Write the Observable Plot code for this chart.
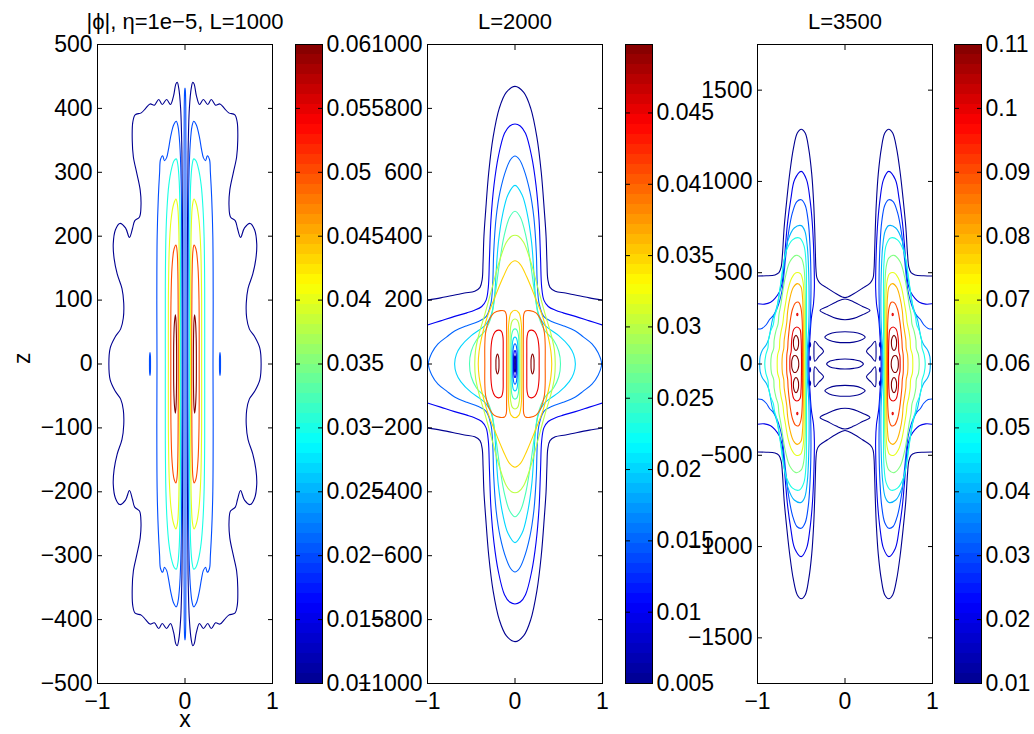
<!DOCTYPE html>
<html><head><meta charset="utf-8">
<script src="https://cdn.jsdelivr.net/npm/d3@7"></script>
<script src="https://cdn.jsdelivr.net/npm/@observablehq/plot@0.6"></script>
<style>
body{margin:0;background:#fff}
#fig{position:relative;width:1034px;height:734px;overflow:hidden;background:#fff}
#fig svg{position:absolute;overflow:visible}
</style>
</head><body><div id="fig"></div>
<script>
// ---------- titles, ticks, colour ranges ----------
const titles = ["|\u03d5|, \u03b7=1e\u22125, L=1000", "L=2000", "L=3500"];
const xTicks = [-1, 0, 1];
const p1YTicks = [-500,-400,-300,-200,-100,0,100,200,300,400,500];
const p2YTicks = [-1000,-800,-600,-400,-200,0,200,400,600,800,1000];
const p3YTicks = [-1500,-1000,-500,0,500,1000,1500];
const p1ZDomain = [-500, 500], p2ZDomain = [-1000, 1000], p3ZDomain = [-1750, 1750];
const cb1Domain = [0.01, 0.06], cb2Domain = [0.005, 0.0498], cb3Domain = [0.01, 0.11];
const cb1Ticks = [0.01,0.015,0.02,0.025,0.03,0.035,0.04,0.045,0.05,0.055,0.06];
const cb2Ticks = [0.005,0.01,0.015,0.02,0.025,0.03,0.035,0.04,0.045];
const cb3Ticks = [0.01,0.02,0.03,0.04,0.05,0.06,0.07,0.08,0.09,0.1,0.11];

// ---------- panel 1 contours (upper-left quarter, [x, z]) ----------
const p1_c010 = [[-0.870,0],[-0.855,25],[-0.80,42],[-0.735,55],[-0.705,72],[-0.70,95],[-0.72,118],[-0.775,141],[-0.81,165],[-0.82,188],[-0.795,210],[-0.745,220],[-0.68,213],[-0.635,198],[-0.60,212],[-0.575,224],[-0.52,230],[-0.503,248],[-0.512,272],[-0.55,298],[-0.59,324],[-0.603,350],[-0.597,378],[-0.57,390],[-0.50,393],[-0.45,400],[-0.40,407],[-0.35,405],[-0.30,414],[-0.26,406],[-0.21,414],[-0.166,406],[-0.13,420],[-0.105,438],[-0.089,441],[-0.072,432],[-0.05,400],[-0.035,330],[-0.028,200],[-0.026,0]];
const p1_c020 = [[-0.32,0],[-0.322,100],[-0.318,200],[-0.305,260],[-0.29,300],[-0.28,320],[-0.255,326],[-0.235,318],[-0.21,323],[-0.19,335],[-0.165,355],[-0.13,374],[-0.10,380],[-0.08,372],[-0.06,345],[-0.045,290],[-0.037,180],[-0.034,0]];
const p1_c030 = [[-0.225,0],[-0.225,120],[-0.218,200],[-0.205,245],[-0.185,280],[-0.155,305],[-0.125,318],[-0.10,321],[-0.082,312],[-0.066,285],[-0.056,230],[-0.051,140],[-0.05,0]];
const p1_c040 = [[-0.19,0],[-0.19,100],[-0.18,180],[-0.16,225],[-0.13,250],[-0.103,258],[-0.085,248],[-0.072,215],[-0.066,150],[-0.064,0]];
const p1_c050 = [[-0.162,0],[-0.16,100],[-0.148,152],[-0.125,180],[-0.103,186],[-0.09,176],[-0.082,145],[-0.078,80],[-0.077,0]];
const p1_c060 = [[-0.13,0],[-0.128,40],[-0.12,66],[-0.11,77],[-0.103,68],[-0.098,45],[-0.096,0]];
const p1_side020 = [[-0.406,0],[-0.405,12],[-0.40,18],[-0.395,12],[-0.394,0]];
const p1_mid020 = [[-0.011,0],[-0.011,300],[-0.009,400],[-0.004,428],[0,432]];

// ---------- panel 2 contours ----------
const p2_c005 = [[-1,200],[-0.85,207],[-0.7,215],[-0.577,222],[-0.46,228],[-0.40,240],[-0.375,265],[-0.365,320],[-0.355,400],[-0.335,480],[-0.30,600],[-0.25,710],[-0.18,800],[-0.10,850],[0,869]];
const p2_c010 = [[-1,122],[-0.85,135],[-0.69,149],[-0.55,160],[-0.463,168],[-0.38,180],[-0.33,200],[-0.305,240],[-0.292,330],[-0.275,450],[-0.24,560],[-0.19,650],[-0.12,722],[-0.06,745],[0,751]];
const p2_c015 = [[-0.99,0],[-0.95,35],[-0.88,63],[-0.78,85],[-0.69,103],[-0.55,120],[-0.425,132],[-0.33,148],[-0.275,190],[-0.255,250],[-0.243,353],[-0.215,460],[-0.17,540],[-0.10,610],[-0.05,640],[0,651]];
const p2_c020 = [[-0.69,0],[-0.67,30],[-0.62,55],[-0.50,89],[-0.40,108],[-0.33,125],[-0.27,155],[-0.235,210],[-0.215,290],[-0.19,380],[-0.14,470],[-0.08,530],[0,559]];
const p2_c025 = [[-0.52,0],[-0.50,40],[-0.44,75],[-0.34,105],[-0.27,150],[-0.225,221],[-0.18,310],[-0.125,400],[-0.06,460],[0,478]];
const p2_c030 = [[-0.46,0],[-0.45,45],[-0.41,95],[-0.34,160],[-0.26,240],[-0.18,320],[-0.10,380],[-0.04,400],[0,403]];
const p2_c035 = [[-0.42,0],[-0.41,40],[-0.38,85],[-0.32,145],[-0.23,209],[-0.135,272],[-0.06,312],[0,323]];
const p2_lobe040 = [[-0.345,0],[-0.345,60],[-0.335,100],[-0.30,135],[-0.24,160],[-0.17,167],[-0.12,166],[-0.10,155],[-0.096,120],[-0.095,0]];
const p2_lobe045 = [[-0.276,0],[-0.274,50],[-0.26,80],[-0.23,100],[-0.19,106],[-0.155,102],[-0.138,85],[-0.135,40],[-0.135,0]];
const p2_lobe049 = [[-0.218,0],[-0.215,20],[-0.20,31],[-0.186,20],[-0.183,0]];
const p2_mid035 = [[-0.078,0],[-0.077,80],[-0.07,130],[-0.045,160],[0,168]];
const p2_mid030 = [[-0.058,0],[-0.057,70],[-0.05,115],[-0.03,136],[0,141]];
const p2_mid025 = [[-0.046,0],[-0.045,60],[-0.038,92],[-0.02,107],[0,110]];
const p2_mid020 = [[-0.035,0],[-0.034,45],[-0.027,70],[-0.014,82],[0,84]];
const p2_mid015 = [[-0.025,0],[-0.024,35],[-0.018,52],[-0.009,61],[0,63]];
const p2_mid010 = [[-0.016,0],[-0.015,25],[-0.01,36],[-0.005,41],[0,42]];
const p2_mid005 = [[-0.007,0],[-0.007,15],[-0.004,24],[0,26]];

// ---------- panel 3 contours ----------
const p3_c01 = [[-1,482],[-0.9,483],[-0.8,488],[-0.755,500],[-0.73,530],[-0.715,600],[-0.695,750],[-0.665,900],[-0.63,1050],[-0.59,1180],[-0.545,1265],[-0.5,1286],[-0.455,1265],[-0.415,1180],[-0.38,1040],[-0.358,880],[-0.345,720],[-0.338,600],[-0.332,520],[-0.32,470],[-0.29,445],[-0.2,415],[-0.1,385],[0,364]];
const p3_c02 = [[-1,330],[-0.92,328],[-0.85,338],[-0.8,360],[-0.75,395],[-0.72,440],[-0.70,520],[-0.68,650],[-0.655,780],[-0.62,900],[-0.575,1010],[-0.5,1055],[-0.44,1010],[-0.40,900],[-0.375,780],[-0.36,650],[-0.352,520],[-0.35,420],[-0.36,330],[-0.385,250],[-0.40,150],[-0.41,60],[-0.413,0]];
const p3_c03 = [[-1,192],[-0.95,195],[-0.9,215],[-0.86,245],[-0.82,265],[-0.78,300],[-0.75,340],[-0.72,400],[-0.70,480],[-0.675,600],[-0.645,720],[-0.6,830],[-0.55,890],[-0.5,900],[-0.455,870],[-0.42,780],[-0.4,650],[-0.39,500],[-0.39,350],[-0.40,200],[-0.42,80],[-0.425,0]];
const p3_c04 = [[-0.975,0],[-0.97,40],[-0.945,75],[-0.9,105],[-0.87,140],[-0.85,190],[-0.83,240],[-0.80,280],[-0.77,330],[-0.745,400],[-0.72,480],[-0.69,580],[-0.65,680],[-0.58,745],[-0.5,758],[-0.46,730],[-0.43,640],[-0.415,500],[-0.41,350],[-0.415,200],[-0.43,80],[-0.435,0]];
const p3_c05 = [[-0.917,0],[-0.905,50],[-0.88,90],[-0.875,130],[-0.85,180],[-0.82,215],[-0.805,260],[-0.78,300],[-0.76,360],[-0.735,440],[-0.71,530],[-0.67,620],[-0.6,680],[-0.52,690],[-0.47,650],[-0.445,550],[-0.44,400],[-0.44,200],[-0.445,0]];
const p3_c06 = [[-0.848,0],[-0.84,50],[-0.815,85],[-0.81,130],[-0.79,180],[-0.765,220],[-0.755,270],[-0.735,320],[-0.71,400],[-0.68,480],[-0.63,560],[-0.56,595],[-0.5,580],[-0.47,530],[-0.455,400],[-0.452,200],[-0.455,0]];
const p3_c07 = [[-0.775,0],[-0.77,50],[-0.75,85],[-0.745,130],[-0.73,180],[-0.71,225],[-0.70,270],[-0.68,330],[-0.65,410],[-0.61,470],[-0.56,500],[-0.51,495],[-0.48,450],[-0.468,350],[-0.465,0]];
const p3_c08 = [[-0.72,0],[-0.715,50],[-0.70,85],[-0.695,130],[-0.68,180],[-0.665,230],[-0.655,290],[-0.63,360],[-0.59,420],[-0.545,440],[-0.505,425],[-0.485,360],[-0.478,250],[-0.475,0]];
const p3_c09 = [[-0.667,0],[-0.665,50],[-0.655,85],[-0.65,130],[-0.64,180],[-0.625,240],[-0.60,300],[-0.565,335],[-0.53,338],[-0.505,310],[-0.49,240],[-0.485,120],[-0.485,0]];
const p3_c10 = [[-0.63,0],[-0.628,40],[-0.615,70],[-0.612,110],[-0.605,150],[-0.585,190],[-0.55,203],[-0.515,190],[-0.502,140],[-0.498,60],[-0.497,0]];
const p3_c11_mid = [[-0.61,0],[-0.605,25],[-0.585,45],[-0.56,45],[-0.535,25],[-0.528,0]];
const p3_c11_off = [[-0.59,115],[-0.58,145],[-0.56,157],[-0.54,145],[-0.53,115],[-0.54,85],[-0.56,74],[-0.58,85]];
const p3_c10_dot = [[-0.552,271],[-0.545,278],[-0.538,271],[-0.545,264]];
const p3_ell0 = [[0,27],[-0.1,24],[-0.17,16],[-0.21,0],[-0.17,-16],[-0.1,-24],[0,-27]];
const p3_ell1 = [[0,177],[-0.1,174],[-0.18,164],[-0.23,147],[-0.18,130],[-0.1,120],[0,117]];
const p3_lens = [[0,356],[-0.1,340],[-0.2,315],[-0.285,293],[-0.2,270],[-0.1,250],[0,242]];
const p3_tri = [[-0.345,125],[-0.30,100],[-0.245,70],[-0.30,40],[-0.345,15],[-0.355,70]];
const p3_blobA = [[-0.405,32],[-0.40,44],[-0.393,32],[-0.40,20]];
const p3_blobB = [[-0.405,105],[-0.40,117],[-0.393,105],[-0.40,93]];

// ---------- contour lists: [kind, level, points, mirrorX, mirrorZ] ----------
const panel1Contours = [
  ["loopL",0.01,p1_c010],["loopL",0.02,p1_c020],["loopL",0.03,p1_c030],["loopL",0.04,p1_c040],
  ["loopL",0.05,p1_c050],["loopL",0.06,p1_c060],["loopL",0.02,p1_side020],["loopC",0.02,p1_mid020]
];
const panel2Contours = [
  ["openC",0.005,p2_c005],["openC",0.01,p2_c010],["loopC",0.015,p2_c015],["loopC",0.02,p2_c020],
  ["loopC",0.025,p2_c025],["loopC",0.03,p2_c030],["loopC",0.035,p2_c035],
  ["loopL",0.04,p2_lobe040],["loopL",0.045,p2_lobe045],["loopL",0.0495,p2_lobe049],
  ["loopC",0.035,p2_mid035],["loopC",0.03,p2_mid030],["loopC",0.025,p2_mid025],["loopC",0.02,p2_mid020],
  ["loopC",0.015,p2_mid015],["loopC",0.01,p2_mid010],["loopC",0.005,p2_mid005]
];
const panel3Contours = [
  ["openC",0.01,p3_c01],["openL",0.02,p3_c02],["openL",0.03,p3_c03],["loopL",0.04,p3_c04],
  ["loopL",0.05,p3_c05],["loopL",0.06,p3_c06],["loopL",0.07,p3_c07],["loopL",0.08,p3_c08],
  ["loopL",0.09,p3_c09],["loopL",0.10,p3_c10],["loopL",0.11,p3_c11_mid],
  ["poly",0.11,p3_c11_off,true,true],["poly",0.10,p3_c10_dot,true,true],
  ["halfX",0.01,p3_ell0,false,false],["halfX",0.01,p3_ell1,false,true],["halfX",0.01,p3_lens,false,true],
  ["poly",0.01,p3_tri,true,true],["poly",0.015,p3_blobA,true,true],["poly",0.015,p3_blobB,true,true]
];

// ---------- assembly (symmetry of the field) ----------
const fx = p => [-p[0], p[1]], fz = p => [p[0], -p[1]];
let uid = 0;
function build(list) {
  const closed = [], open = [];
  const push = (arr, path, level) => { const id = uid++; for (const [x, z] of path) arr.push({x, z, level, id}); };
  for (const [kind, level, P, mx, mz] of list) {
    if (kind === "loopL") {
      const loop = P.concat(P.map(fz).reverse().slice(1, -1));
      push(closed, loop, level); push(closed, loop.map(fx), level);
    } else if (kind === "loopC") {
      const top = P.concat(P.map(fx).reverse().slice(1));
      push(closed, top.concat(top.map(fz).reverse().slice(1, -1)), level);
    } else if (kind === "openC") {
      const top = P.concat(P.map(fx).reverse().slice(1));
      push(open, top, level); push(open, top.map(fz), level);
    } else if (kind === "openL") {
      const left = P.concat(P.map(fz).reverse().slice(1));
      push(open, left, level); push(open, left.map(fx), level);
    } else if (kind === "halfX") {
      const full = P.concat(P.map(fx).reverse().slice(1, -1));
      push(closed, full, level); if (mz) push(closed, full.map(fz), level);
    } else if (kind === "poly") {
      push(closed, P, level);
      if (mx) push(closed, P.map(fx), level);
      if (mz) push(closed, P.map(fz), level);
      if (mx && mz) push(closed, P.map(p => fx(fz(p))), level);
    }
  }
  return {closed, open};
}

// ---------- layout ----------
const FONT = "'Liberation Sans', Arial, Helvetica, sans-serif";
const STYLE = {fontFamily: FONT, fontSize: "23px", color: "#000", background: "transparent", overflow: "visible"};
const PT = 44, PH = 639, PW = 175, CBW = 27;
const MT = 40, MB = 50, ML = 75, MR = 10;
const JET_T = [0, 0.125, 0.375, 0.625, 0.875, 1];
const JET_C = ["#000090", "#0000ff", "#00ffff", "#ffff00", "#ff0000", "#800000"];
const jet = ([a, b]) => ({type: "linear", domain: JET_T.map(t => a + t * (b - a)), range: JET_C, interpolate: "rgb", clamp: true});
const fmt = d => (d < 0 ? "\u2212" + (-d) : String(d));
const fig = document.getElementById("fig");
function place(svg, left, top) { svg.style.left = left + "px"; svg.style.top = top + "px"; fig.appendChild(svg); }

function panel({contours, zDomain, yTicks, cDomain, title, left, labels}) {
  const {closed, open} = build(contours);
  const marks = [
    Plot.line(open, {x: "x", y: "z", z: "id", stroke: "level", strokeWidth: 1.1, curve: "catmull-rom", clip: true}),
    Plot.line(closed, {x: "x", y: "z", z: "id", stroke: "level", strokeWidth: 1.1, curve: "catmull-rom-closed", clip: true}),
    Plot.frame({stroke: "#000", strokeWidth: 1}),
    Plot.axisY({ticks: yTicks, anchor: "left", tickSize: -5, fill: "none", label: null}),
    Plot.axisY({ticks: yTicks, anchor: "right", tickSize: -5, fill: "none", label: null}),
    Plot.axisY({ticks: yTicks, anchor: "left", tickSize: 0, tickPadding: 5, label: null, tickFormat: fmt}),
    Plot.axisX({ticks: xTicks, anchor: "bottom", tickSize: -5, fill: "none", label: null}),
    Plot.axisX({ticks: xTicks, anchor: "top", tickSize: -5, fill: "none", label: null}),
    Plot.axisX({ticks: xTicks, anchor: "bottom", tickSize: 0, tickPadding: 9, label: null, tickFormat: fmt}),
    Plot.text([title], {frameAnchor: "top", dy: -31, fontSize: 22})
  ];
  if (labels) {
    marks.push(Plot.text(["x"], {frameAnchor: "bottom", dy: 43, fontSize: 23}));
    marks.push(Plot.text(["z"], {frameAnchor: "left", dx: -75, rotate: -90, fontSize: 23}));
  }
  const svg = Plot.plot({
    width: PW + ML + MR, height: PH + MT + MB,
    marginLeft: ML, marginRight: MR, marginTop: MT, marginBottom: MB,
    x: {domain: [-1, 1]}, y: {domain: zDomain},
    color: jet(cDomain), style: STYLE, marks
  });
  place(svg, left - ML, PT - MT);
}

function colorbar({cDomain, ticks, left}) {
  const [a, b] = cDomain, n = 64;
  const bands = d3.range(n).map(i => ({y1: a + (b - a) * i / n, y2: a + (b - a) * (i + 1) / n, v: a + (b - a) * (i + 0.5) / n}));
  const svg = Plot.plot({
    width: CBW + 5 + 80, height: PH + MT + MB,
    marginLeft: 5, marginRight: 80, marginTop: MT, marginBottom: MB,
    x: {domain: [0, 1], axis: null}, y: {domain: cDomain},
    color: jet(cDomain), style: STYLE,
    marks: [
      Plot.rect(bands, {x1: 0, x2: 1, y1: "y1", y2: "y2", fill: "v", shapeRendering: "crispEdges"}),
      Plot.frame({stroke: "#000", strokeWidth: 1}),
      Plot.axisY({ticks, anchor: "left", tickSize: -5, fill: "none", label: null}),
      Plot.axisY({ticks, anchor: "right", tickSize: -5, fill: "none", label: null}),
      Plot.axisY({ticks, anchor: "right", tickSize: 0, tickPadding: 4, label: null, tickFormat: d => String(d)})
    ]
  });
  place(svg, left - 5, PT - MT);
}

panel({contours: panel1Contours, zDomain: p1ZDomain, yTicks: p1YTicks, cDomain: cb1Domain, title: titles[0], left: 97, labels: true});
colorbar({cDomain: cb1Domain, ticks: cb1Ticks, left: 295});
panel({contours: panel2Contours, zDomain: p2ZDomain, yTicks: p2YTicks, cDomain: cb2Domain, title: titles[1], left: 426.5});
colorbar({cDomain: cb2Domain, ticks: cb2Ticks, left: 624.5});
panel({contours: panel3Contours, zDomain: p3ZDomain, yTicks: p3YTicks, cDomain: cb3Domain, title: titles[2], left: 757});
colorbar({cDomain: cb3Domain, ticks: cb3Ticks, left: 954});
</script></body></html>
